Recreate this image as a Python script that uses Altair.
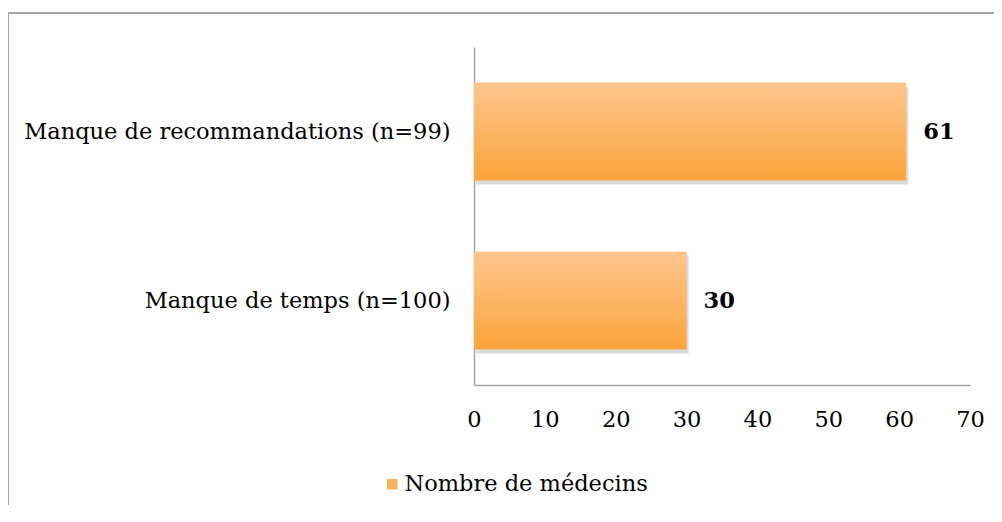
import altair as alt
import pandas as pd

categories = ["Manque de recommandations (n=99)", "Manque de temps (n=100)"]
values = [61, 30]
series_name = "Nombre de médecins"
x_ticks = [0, 10, 20, 30, 40, 50, 60, 70]

df = pd.DataFrame({"cat": categories, "val": values, "serie": [series_name] * len(categories)})
frame_df = pd.DataFrame({"k": [0]})

FONT = "DejaVu Serif"
FS = 22.5
GRAY = "#a3a3a3"

gradient = alt.Gradient(
    gradient="linear", x1=0, y1=0, x2=0, y2=1,
    stops=[alt.GradientStop(color="#fdc68e", offset=0),
           alt.GradientStop(color="#fca43b", offset=1)],
)

yenc = alt.Y("cat:N", sort=categories, title=None,
             scale=alt.Scale(paddingInner=0.42, paddingOuter=0.21),
             axis=alt.Axis(labelFont=FONT, labelFontSize=FS, labelColor="#000000",
                           ticks=False, labelPadding=24, domainColor=GRAY,
                           domainWidth=1.5, labelLimit=600))
xenc = alt.X("val:Q", title=None,
             scale=alt.Scale(domain=[0, 70], nice=False),
             axis=alt.Axis(values=x_ticks, labelFont=FONT, labelFontSize=FS,
                           labelColor="#000000", ticks=False, labelPadding=23,
                           domainColor=GRAY, domainWidth=1.5, grid=False,
                           labelFlush=False))

base = alt.Chart(df)

shadow = base.mark_bar(color="#7a7a7a", opacity=0.28, yOffset=4, xOffset=2).encode(x=xenc, y=yenc)
bars = base.mark_bar(fill=gradient).encode(x=xenc, y=yenc)
legend_layer = base.mark_square(opacity=0).encode(
    x=xenc, y=yenc,
    color=alt.Color("serie:N", scale=alt.Scale(range=["#fcb15e"]),
                    legend=alt.Legend(orient="none", legendX=-93, legendY=426,
                                      title=None, symbolType="square", symbolSize=110,
                                      symbolOpacity=1, symbolStrokeWidth=0,
                                      labelFont=FONT, labelFontSize=FS,
                                      labelColor="#000000", labelOffset=1,
                                      labelLimit=600)))
labels = base.mark_text(align="left", baseline="middle", dx=17, font=FONT,
                        fontSize=FS, fontWeight="bold", color="#000000").encode(
    x=xenc, y=yenc, text="val:Q")

frame = alt.Chart(frame_df).mark_rect(fill=None, stroke=GRAY, strokeWidth=2).encode(
    x=alt.value(-466), x2=alt.value(540), y=alt.value(-34), y2=alt.value(700))

chart = alt.layer(frame, shadow, bars, legend_layer, labels).properties(
    width=496, height=338,
    autosize=alt.AutoSizeParams(type="none"),
    padding={"left": 466, "top": 39, "right": 24, "bottom": 120},
).configure(background="white", view={"stroke": "transparent", "strokeWidth": 0})

chart.save("out.html", embed_options={"renderer": "svg", "actions": False})
